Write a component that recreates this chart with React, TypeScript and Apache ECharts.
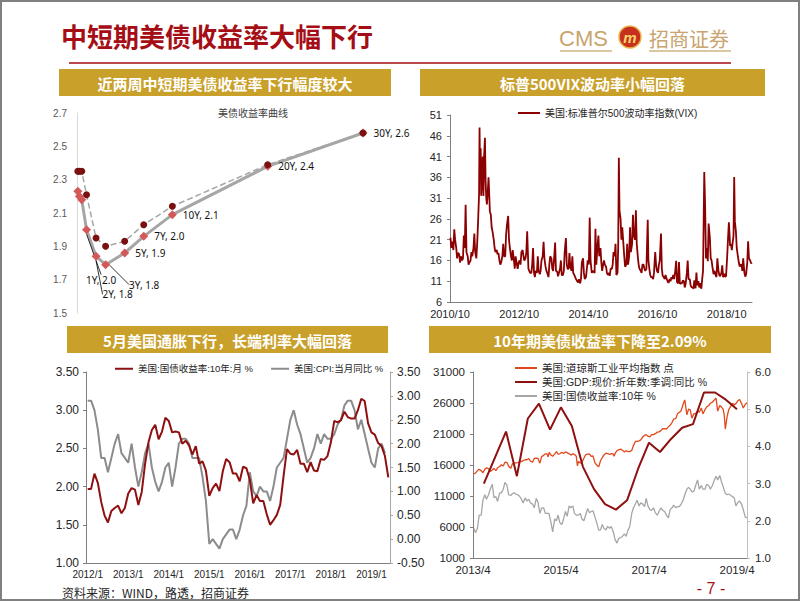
import React, { useEffect, useRef } from "react";
import * as echarts from "echarts";

const LATIN = "'Liberation Sans', Arial, 'Noto Sans CJK SC', sans-serif";
const CJK = "'Noto Sans CJK SC', 'Liberation Sans', sans-serif";

// ---------- Chart 1: US Treasury yield curve ----------
const curveTenors = ["1M", "3M", "6M", "1Y", "2Y", "3Y", "5Y", "7Y", "10Y", "20Y", "30Y"];
const curveYears = [0.083, 0.25, 0.5, 1, 2, 3, 5, 7, 10, 20, 30];
const curveNow = [2.23, 2.2, 2.18, 2.0, 1.84, 1.79, 1.86, 1.96, 2.09, 2.38, 2.58];
const curvePrev = [2.35, 2.35, 2.35, 2.21, 1.95, 1.9, 1.93, 2.03, 2.14, 2.39, 2.58];
const curveYTicks = [1.5, 1.7, 1.9, 2.1, 2.3, 2.5, 2.7];

// ---------- Chart 2: VIX (readings per month, from 2010-10) ----------
const vixStart = [2010, 10];
const vixValues: number[][] = [
  [21.5, 19.0, 20.5], [18.5, 23.5, 21.0], [19.0, 16.5, 17.8],
  [17.5, 15.5, 17.0], [16.0, 16.5, 22.0], [19.0, 29.4, 18.0], [17.0, 15.0, 15.5], [16.0, 18.0, 17.0], [19.0, 22.5, 18.0],
  [16.5, 20.0, 25.0], [32.0, 48.0, 36.0, 43.0, 31.6], [36.0, 41.0, 31.5, 41.0], [45.5, 35.0, 31.0, 29.5], [33.0, 36.0, 32.0, 27.8], [27.0, 24.0, 23.0],
  [21, 19, 18], [18.5, 17.5, 17.8], [16, 15, 15.5], [17, 20, 17], [17, 22, 24.5], [26.7, 21, 19],
  [17, 16, 18.5], [16, 14, 17], [15, 14, 15.5], [16, 15, 18], [18.5, 17, 16], [16.5, 18, 23],
  [14, 13.5, 13], [13, 15, 19], [13, 12, 13.5], [13, 17, 13.5], [12.7, 13.5, 16], [17, 20.5, 16.5],
  [14.5, 13.5, 13], [12, 15, 17], [16.5, 14, 13.5], [17, 20.3, 13.5], [13.3, 12.2, 13], [14, 16, 12.5],
  [12.5, 13.5, 18], [21.4, 15, 14], [14, 17.8, 14.5], [13.5, 17, 13], [12.5, 12, 11.5], [11, 10.7, 11.5],
  [10.5, 11.5, 15.5], [16.5, 13, 11.5], [12, 14, 16], [15, 26.3, 16], [13, 13.5, 13.3], [13, 23.6, 15],
  [19.5, 22, 17], [19, 15.5, 13.5], [15, 16, 15], [14.5, 13, 12.5], [13, 12.3, 14], [14, 15, 18],
  [17, 20, 12.5], [13, 19, 40.7, 28], [26, 21, 24], [20, 17, 14.5], [15, 20, 15], [17, 24, 18],
  [20, 27, 22], [21, 28.1, 20], [17, 15, 14], [13.5, 13, 15], [15, 14, 13.5], [14, 20, 25.8, 16],
  [14, 12.5, 12], [12, 11.5, 13], [18, 15, 13.5], [13, 15, 16], [22.5, 14, 12.3], [12, 11.5, 12.5],
  [11.5, 11, 10.6], [11.5, 11, 12], [11.5, 12.5, 11.5], [13.5, 15.9, 10.8], [10.5, 15.6, 10.4], [10.5, 10.5, 11.2],
  [11, 9.5, 10.3], [13, 16, 11.5], [11.5, 10, 9.6], [9.5, 9.2, 11.2], [9.3, 13.1, 10], [11, 9.5, 10.5],
  [9.2, 11.5, 13.5], [37.3, 29, 16.5], [19, 15.8, 24.9], [21.5, 16.5, 16], [14, 12.7, 13.5], [12.5, 12, 16.5],
  [13.5, 12.5, 12.2], [13, 14.8, 12], [12.8, 12.1, 12.2], [17, 21.3, 25.2], [19.5, 20, 18.5], [20.7, 22, 36.1, 25.4],
  [23, 19, 17.5], [15.5, 14.5, 15], [15, 13.5, 16.5], [13, 12.1, 12.7], [15.5, 20.6, 16.5], [16, 15.3, 15.5],
];
const vixYTicks = [6, 11, 16, 21, 26, 31, 36, 41, 46, 51];
const vixXTicks = ["2010-10-01", "2012-10-01", "2014-10-01", "2016-10-01", "2018-10-01"];

// ---------- Chart 3: 10Y yield (monthly) vs CPI YoY, from 2012/1 ----------
const yield10Monthly = [
  1.97, 1.97, 2.17, 2.05, 1.8, 1.62, 1.53, 1.68, 1.72, 1.75, 1.65, 1.72,
  1.91, 1.98, 1.96, 1.76, 1.93, 2.3, 2.58, 2.74, 2.81, 2.62, 2.72, 2.9,
  2.86, 2.71, 2.72, 2.71, 2.56, 2.6, 2.54, 2.42, 2.53, 2.3, 2.33, 2.21,
  1.88, 1.98, 2.04, 1.94, 2.2, 2.36, 2.32, 2.17, 2.17, 2.07, 2.26, 2.24,
  2.09, 1.78, 1.89, 1.81, 1.81, 1.64, 1.5, 1.56, 1.63, 1.76, 2.14, 2.49,
  2.43, 2.42, 2.48, 2.3, 2.3, 2.19, 2.32, 2.21, 2.2, 2.36, 2.35, 2.4,
  2.58, 2.86, 2.84, 2.87, 2.98, 2.91, 2.89, 2.89, 3.0, 3.15, 3.12, 2.83,
  2.71, 2.68, 2.57, 2.53, 2.4, 2.12,
];
const cpiYoY = [
  2.9, 2.9, 2.7, 2.3, 1.7, 1.7, 1.4, 1.7, 2.0, 2.2, 1.8, 1.7,
  1.6, 2.0, 1.5, 1.1, 1.4, 1.8, 2.0, 1.5, 1.2, 1.0, 1.2, 1.5,
  1.6, 1.1, 1.5, 2.0, 2.1, 2.1, 2.0, 1.7, 1.7, 1.7, 1.3, 0.8,
  -0.1, 0.0, -0.1, -0.2, 0.0, 0.1, 0.2, 0.2, 0.0, 0.2, 0.5, 0.7,
  1.4, 1.0, 0.9, 1.1, 1.0, 1.0, 0.8, 1.1, 1.5, 1.6, 1.7, 2.1,
  2.5, 2.7, 2.4, 2.2, 1.9, 1.6, 1.7, 1.9, 2.2, 2.0, 2.2, 2.1,
  2.1, 2.2, 2.4, 2.5, 2.8, 2.9, 2.9, 2.7, 2.3, 2.5, 2.2, 1.9,
  1.6, 1.5, 1.9, 2.0, 1.8,
];
const monthCategories: string[] = [];
for (let y = 2012; y <= 2019; y++) for (let m = 1; m <= 12; m++) if (monthCategories.length < 90) monthCategories.push(`${y}/${m}`);

// ---------- Chart 4: Dow, GDP, 10Y (from 2013-04) ----------
const dowStart = [2013, 4];
const dowValues: number[][] = [
  [14600, 14700], [15100, 15300], [15100, 14750], [15300, 15550], [15400, 14950], [15200, 15450], [15100, 15550], [15750, 16050], [15850, 16450],
  [16400, 15800], [15450, 16200], [16300, 16350], [16400, 16500], [16550, 16700], [16850, 16850], [17050, 16600], [16450, 17050], [17100, 17050], [16300, 17350], [17550, 17800], [17800, 17300, 18050],
  [17600, 17400], [17800, 18150], [17750, 17800], [18050, 17850], [18100, 18000], [17800, 17600], [17800, 17700], [17400, 15850, 16600], [16300, 16450], [17100, 17650], [17750, 17800], [17400, 17450],
  [16350, 16000], [15700, 16650], [17200, 17600], [17900, 17850], [17700, 17850], [17800, 17400, 17900], [18300, 18450], [18550, 18400], [18100, 18300], [18150, 18150], [18350, 19150], [19800, 19800],
  [19900, 20050], [20550, 20800], [20900, 20650], [20550, 20900], [20900, 21050], [21300, 21350], [21550, 21850], [21850, 21800], [22150, 22400], [22850, 23400], [23500, 24250], [24500, 24700],
  [25800, 26500], [24100, 25000], [24900, 23550], [24300, 24300], [24700, 24500], [25200, 24250], [24900, 25350], [25600, 25950], [26150, 26450], [26800, 24700], [25600, 25350], [25000, 24100, 21800],
  [23800, 24950], [25500, 25950], [25700, 25900], [26400, 26550], [25900, 25200], [25800, 26050],
];
const ust10Values: number[][] = [
  [1.8, 1.68], [1.8, 2.15], [2.15, 2.55], [2.7, 2.58], [2.7, 2.85], [2.98, 2.62], [2.65, 2.52], [2.75, 2.75], [2.85, 3.03],
  [2.95, 2.7], [2.68, 2.73], [2.75, 2.72], [2.7, 2.66], [2.58, 2.48], [2.62, 2.53], [2.58, 2.48], [2.45, 2.35], [2.6, 2.5], [2.2, 2.34], [2.35, 2.2], [2.2, 2.2],
  [1.95, 1.7], [2.05, 2.0], [2.15, 1.95], [1.9, 2.05], [2.25, 2.12], [2.4, 2.35], [2.4, 2.2], [2.15, 2.15], [2.2, 2.05], [2.0, 2.15], [2.33, 2.22], [2.25, 2.27],
  [2.1, 1.95], [1.75, 1.75], [1.9, 1.8], [1.75, 1.85], [1.8, 1.85], [1.7, 1.5], [1.4, 1.52], [1.55, 1.58], [1.65, 1.58], [1.75, 1.84], [2.2, 2.35], [2.45, 2.55],
  [2.4, 2.48], [2.45, 2.38], [2.6, 2.4], [2.3, 2.28], [2.35, 2.22], [2.15, 2.25], [2.35, 2.28], [2.25, 2.15], [2.08, 2.3], [2.35, 2.42], [2.35, 2.38], [2.38, 2.45],
  [2.55, 2.7], [2.85, 2.9], [2.85, 2.78], [2.8, 2.95], [3.1, 2.85], [2.95, 2.85], [2.85, 2.98], [2.95, 2.85], [2.95, 3.08], [3.2, 3.1], [3.22, 3.05], [2.9, 2.75],
  [2.7, 2.72], [2.68, 2.65], [2.62, 2.4], [2.5, 2.53], [2.45, 2.3], [2.1, 2.08],
];
const gdpStartQuarter = [2013, 2];
const gdpYoY = [3.0, 3.7, 4.4, 3.2, 4.75, 5.15, 4.45, 5.05, 4.55, 3.45, 2.85, 2.45, 2.3, 2.55, 3.4, 4.1, 3.85, 4.2, 4.5, 4.6, 5.45, 5.45, 5.25, 5.0];
const dowYTicks = [1000, 6000, 11000, 16000, 21000, 26000, 31000];
const rightYTicks4 = [1, 2, 3, 4, 5, 6];
const chart4XTicks = ["2013-04-01", "2015-04-01", "2017-04-01", "2019-04-01"];

// ---------- helpers ----------
const ts = (s: string) => new Date(s + "T00:00:00Z").getTime();
const fmtYM = (v: number) => {
  const d = new Date(v);
  return `${d.getUTCFullYear()}/${d.getUTCMonth() + 1}`;
};
function monthlyPoints(start: number[], groups: number[][]) {
  const pts: [number, number][] = [];
  groups.forEach((vals, gi) => {
    const total = start[1] - 1 + gi;
    const y = start[0] + Math.floor(total / 12);
    const m = total % 12;
    const n = vals.length;
    vals.forEach((v, k) => {
      const day = Math.round(1 + ((k + 0.5) * 28) / n);
      pts.push([Date.UTC(y, m, day), v]);
    });
  });
  return pts;
}
function quarterPoints(start: number[], vals: number[]) {
  return vals.map((v, i) => {
    const q = start[1] - 1 + i;
    const y = start[0] + Math.floor(q / 4);
    const qm = (q % 4) * 3 + 3; // quarter-end month
    return [Date.UTC(y, qm, 0), v] as [number, number];
  });
}

const axisText = (size: number, color = "#262626") => ({ fontSize: size, color, fontFamily: LATIN });

export default function App() {
  const ref = useRef<HTMLDivElement>(null);
  useEffect(() => {
    document.body.style.margin = "0";
    document.body.style.overflow = "hidden";
    if (!ref.current) return;
    const chart = echarts.init(ref.current, undefined, { renderer: "svg" });

    const labelOffsets: Record<number, [number, number]> = { 3: [-11, 50], 4: [-4, 38], 5: [13, 20] };

    const curveNowData = curveYears.map((x, i) => {
      const item: any = { value: [x, curveNow[i]] };
      if (labelOffsets[i]) item.labelLine = { show: true, lineStyle: { color: "#000", width: 0.8 } };
      return item;
    });

    const header = (x: number, y: number, w: number, text: string) => [
      { type: "rect", shape: { x, y, width: w, height: 27 }, style: { fill: "#C9A02A" }, silent: true },
      {
        type: "text", x: x + w / 2, y: y + 14,
        style: { text, fill: "#fff", font: `bold 15px ${CJK}`, textAlign: "center", align: "center", textVerticalAlign: "middle", verticalAlign: "middle" },
        silent: true,
      },
    ];

    const option: any = {
      animation: false,
      backgroundColor: "#fff",
      title: [
        { text: "美债收益率曲线", left: 213, top: 102, textStyle: { fontSize: 10, fontWeight: "normal", color: "#404040", fontFamily: CJK } },
      ],
      legend: [
        {
          data: ["美国:标准普尔500波动率指数(VIX)"], left: 513, top: 103, icon: "rect", itemWidth: 22, itemHeight: 2,
          selectedMode: false, textStyle: { fontSize: 10, color: "#262626", fontFamily: LATIN },
        },
        {
          data: ["美国:国债收益率:10年:月 %", "美国:CPI:当月同比 %"], left: 110, top: 359, icon: "rect", itemWidth: 18, itemHeight: 2,
          itemGap: 18, selectedMode: false, textStyle: { fontSize: 9.5, color: "#262626", fontFamily: LATIN },
        },
        {
          data: ["美国:道琼斯工业平均指数 点", "美国:GDP:现价:折年数:季调:同比 %", "美国:国债收益率:10年 %"],
          left: 510, top: 356, orient: "vertical", icon: "rect", itemWidth: 22, itemHeight: 2, itemGap: 0,
          selectedMode: false, textStyle: { fontSize: 10.5, lineHeight: 14, color: "#262626", fontFamily: LATIN },
        },
      ],
      grid: [
        { left: 77, top: 113, width: 286, height: 200 },
        { left: 450, top: 115, width: 302, height: 187 },
        { left: 86, top: 372, width: 304, height: 191 },
        { left: 473, top: 372, width: 274, height: 186 },
      ],
      xAxis: [
        { gridIndex: 0, type: "value", min: 0, max: 30, show: false },
        {
          gridIndex: 1, type: "value", min: ts("2010-10-01"), max: ts("2019-06-25"),
          axisLine: { onZero: false, lineStyle: { color: "#7F7F7F" } }, axisTick: { show: false }, splitLine: { show: false },
          axisLabel: { ...axisText(11), margin: 6, customValues: vixXTicks.map(ts), formatter: (v: number) => fmtYM(v) },
        },
        {
          gridIndex: 2, type: "category", data: monthCategories, boundaryGap: true,
          axisLine: { onZero: false, lineStyle: { color: "#7F7F7F" } }, axisTick: { show: false },
          axisLabel: { ...axisText(10), interval: 11, margin: 6 },
        },
        {
          gridIndex: 3, type: "value", min: ts("2013-04-01"), max: ts("2019-06-22"),
          axisLine: { onZero: false, lineStyle: { color: "#7F7F7F" } }, axisTick: { show: false }, splitLine: { show: false },
          axisLabel: { ...axisText(11.5), margin: 6, customValues: chart4XTicks.map(ts), formatter: (v: number) => fmtYM(v) },
        },
      ],
      yAxis: [
        {
          gridIndex: 0, type: "value", min: 1.5, max: 2.7,
          axisLine: { show: true, lineStyle: { color: "#D9D9D9" } }, axisTick: { show: false }, splitLine: { show: false },
          axisLabel: { ...axisText(10, "#595959"), margin: 10, customValues: curveYTicks, formatter: (v: number) => v.toFixed(1) },
        },
        {
          gridIndex: 1, type: "value", min: 6, max: 51,
          axisLine: { show: true, lineStyle: { color: "#7F7F7F" } },
          axisTick: { show: true, length: 3, customValues: vixYTicks, lineStyle: { color: "#7F7F7F" } },
          splitLine: { show: false },
          axisLabel: { ...axisText(11), margin: 8, customValues: vixYTicks, formatter: (v: number) => String(v) },
        },
        {
          gridIndex: 2, type: "value", min: 1, max: 3.5, interval: 0.5,
          axisLine: { show: true, lineStyle: { color: "#7F7F7F" } },
          axisTick: { show: true, length: 3, lineStyle: { color: "#7F7F7F" } }, splitLine: { show: false },
          axisLabel: { ...axisText(12), margin: 7, formatter: (v: number) => v.toFixed(2) },
        },
        {
          gridIndex: 2, type: "value", position: "right", min: -0.5, max: 3.5, interval: 0.5,
          axisLine: { show: true, lineStyle: { color: "#A6A6A6" } },
          axisTick: { show: true, length: 3, lineStyle: { color: "#A6A6A6" } }, splitLine: { show: false },
          axisLabel: { ...axisText(12), margin: 7, formatter: (v: number) => v.toFixed(2) },
        },
        {
          gridIndex: 3, type: "value", min: 1000, max: 31000,
          axisLine: { show: true, lineStyle: { color: "#7F7F7F" } },
          axisTick: { show: true, length: 3, customValues: dowYTicks, lineStyle: { color: "#7F7F7F" } },
          splitLine: { show: false },
          axisLabel: { ...axisText(11.5), margin: 8, customValues: dowYTicks, formatter: (v: number) => String(v) },
        },
        {
          gridIndex: 3, type: "value", position: "right", min: 1, max: 6, interval: 1,
          axisLine: { show: true, lineStyle: { color: "#BFBFBF" } },
          axisTick: { show: true, length: 3, lineStyle: { color: "#BFBFBF" } }, splitLine: { show: false },
          axisLabel: { ...axisText(11.5), margin: 8, customValues: rightYTicks4, formatter: (v: number) => v.toFixed(1) },
        },
      ],
      series: [
        {
          name: "本周", type: "line", xAxisIndex: 0, yAxisIndex: 0, silent: true,
          data: curveNowData, symbol: "diamond", symbolSize: 9,
          itemStyle: { color: "#D35858" }, lineStyle: { color: "#A6A6A6", width: 3 },
          label: {
            show: true, position: "right", distance: 6, fontSize: 10, color: "#111", fontFamily: "'Noto Sans', 'Liberation Sans', sans-serif",
            formatter: (p: any) => (p.dataIndex >= 3 ? `${curveTenors[p.dataIndex]}, ${curveNow[p.dataIndex].toFixed(1)}` : ""),
          },
          labelLayout: (p: any) => {
            if (p.seriesIndex !== 0) return {};
            const o = labelOffsets[p.dataIndex];
            return o ? { dx: o[0], dy: o[1] } : {};
          },
          z: 3,
        },
        {
          name: "两周前", type: "line", xAxisIndex: 0, yAxisIndex: 0, silent: true,
          data: curveYears.map((x, i) => [x, curvePrev[i]]), symbol: "circle", symbolSize: 7,
          itemStyle: { color: "#7A1010" }, lineStyle: { color: "#A6A6A6", width: 1.5, type: "dashed" },
          z: 4,
        },
        {
          name: "美国:标准普尔500波动率指数(VIX)", type: "line", xAxisIndex: 1, yAxisIndex: 1, silent: true,
          data: monthlyPoints(vixStart, vixValues), showSymbol: false,
          itemStyle: { color: "#8B0000" }, lineStyle: { color: "#8B0000", width: 1.8 },
        },
        {
          name: "美国:国债收益率:10年:月 %", type: "line", xAxisIndex: 2, yAxisIndex: 2, silent: true,
          data: yield10Monthly, showSymbol: false,
          itemStyle: { color: "#8E1010" }, lineStyle: { color: "#8E1010", width: 2 },
          z: 3,
        },
        {
          name: "美国:CPI:当月同比 %", type: "line", xAxisIndex: 2, yAxisIndex: 3, silent: true,
          data: cpiYoY, showSymbol: false,
          itemStyle: { color: "#8C8C8C" }, lineStyle: { color: "#8C8C8C", width: 2 },
          z: 2,
        },
        {
          name: "美国:道琼斯工业平均指数 点", type: "line", xAxisIndex: 3, yAxisIndex: 4, silent: true,
          data: monthlyPoints(dowStart, dowValues), showSymbol: false,
          itemStyle: { color: "#E2481C" }, lineStyle: { color: "#E2481C", width: 1.3 },
        },
        {
          name: "美国:GDP:现价:折年数:季调:同比 %", type: "line", xAxisIndex: 3, yAxisIndex: 5, silent: true,
          data: quarterPoints(gdpStartQuarter, gdpYoY), showSymbol: false,
          itemStyle: { color: "#8E1010" }, lineStyle: { color: "#8E1010", width: 2 },
        },
        {
          name: "美国:国债收益率:10年 %", type: "line", xAxisIndex: 3, yAxisIndex: 5, silent: true,
          data: monthlyPoints(dowStart, ust10Values), showSymbol: false,
          itemStyle: { color: "#A6A6A6" }, lineStyle: { color: "#A6A6A6", width: 1.3 },
        },
      ],
      graphic: [
        { type: "rect", shape: { x: 1, y: 1, width: 798, height: 599 }, style: { fill: "none", stroke: "#808080", lineWidth: 2 }, silent: true, z: 100 },
        {
          type: "text", x: 61, y: 35, silent: true,
          style: { text: "中短期美债收益率大幅下行", fill: "#A50E15", font: `bold 26px ${CJK}`, textVerticalAlign: "middle", verticalAlign: "middle" },
        },
        { type: "line", shape: { x1: 69, y1: 63, x2: 731, y2: 63 }, style: { stroke: "#A50E15", lineWidth: 1.5 }, silent: true },
        {
          type: "text", x: 559, y: 38, silent: true,
          style: { text: "CMS", fill: "#C8A46E", font: `22px ${LATIN}`, textVerticalAlign: "middle", verticalAlign: "middle" },
        },
        { type: "line", shape: { x1: 560, y1: 51, x2: 612, y2: 51 }, style: { stroke: "#DCC8A0", lineWidth: 2 }, silent: true },
        { type: "circle", shape: { cx: 630, cy: 37, r: 11 }, style: { fill: "#C8301E", stroke: "#E8B54A", lineWidth: 1.5 }, silent: true },
        {
          type: "text", x: 630, y: 37, silent: true,
          style: { text: "m", fill: "#F6D46A", font: `italic bold 15px ${LATIN}`, textAlign: "center", align: "center", textVerticalAlign: "middle", verticalAlign: "middle" },
        },
        {
          type: "text", x: 649, y: 38, silent: true,
          style: { text: "招商证券", fill: "#C8A46E", font: `20px ${CJK}`, textVerticalAlign: "middle", verticalAlign: "middle" },
        },
        { type: "line", shape: { x1: 649, y1: 51, x2: 731, y2: 51 }, style: { stroke: "#DCC8A0", lineWidth: 2 }, silent: true },
        ...header(59, 69, 332, "近两周中短期美债收益率下行幅度较大"),
        ...header(420, 69, 345, "标普500VIX波动率小幅回落"),
        ...header(67, 326, 321, "5月美国通胀下行，长端利率大幅回落"),
        ...header(429, 326, 342, "10年期美债收益率下降至2.09%"),
        {
          type: "text", x: 62, y: 592, silent: true,
          style: { text: "资料来源：WIND，路透，招商证券", fill: "#262626", font: `12px ${CJK}`, textVerticalAlign: "middle", verticalAlign: "middle" },
        },
        {
          type: "text", x: 711, y: 588, silent: true,
          style: { text: "- 7 -", fill: "#A50E15", font: `16px ${LATIN}`, textAlign: "center", align: "center", textVerticalAlign: "middle", verticalAlign: "middle" },
        },
      ],
    };
    chart.setOption(option);
    return () => chart.dispose();
  }, []);
  return <div ref={ref} style={{ width: 802, height: 602 }} />;
}
